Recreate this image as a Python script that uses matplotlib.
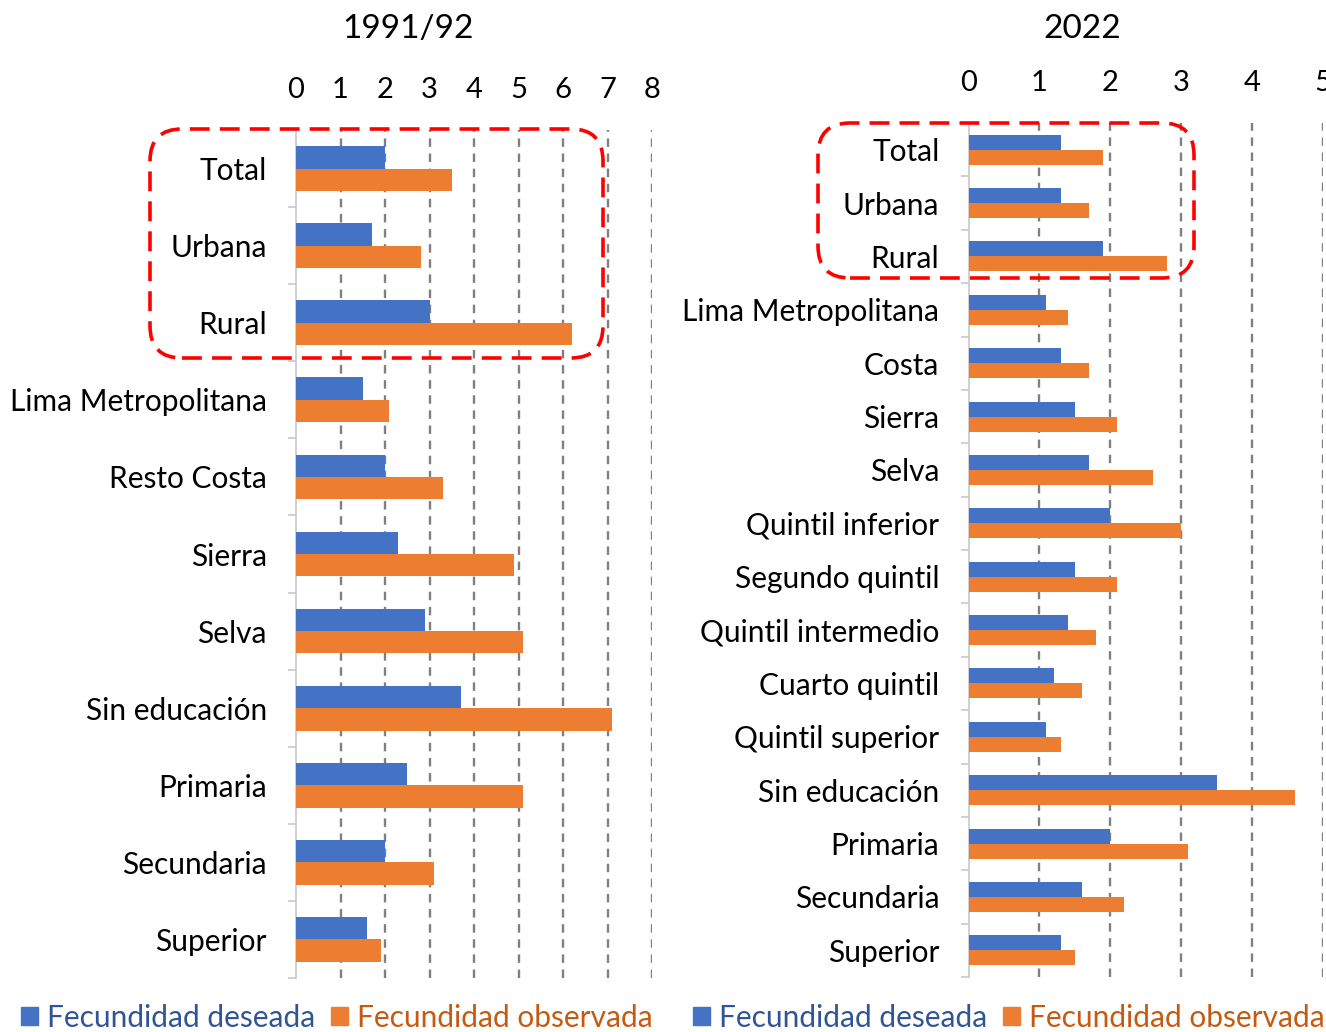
import numpy as np
import matplotlib
matplotlib.use("Agg")
import matplotlib.pyplot as plt
from matplotlib.patches import FancyBboxPatch, Patch

plt.rcParams['font.family'] = ['Lato', 'DejaVu Sans']

# --- data -----------------------------------------------------------------
cats_9192 = ['Total', 'Urbana', 'Rural', 'Lima Metropolitana', 'Resto Costa',
             'Sierra', 'Selva', 'Sin educación', 'Primaria', 'Secundaria',
             'Superior']
deseada_9192 = [2.0, 1.7, 3.0, 1.5, 2.0, 2.3, 2.9, 3.7, 2.5, 2.0, 1.6]
observada_9192 = [3.5, 2.8, 6.2, 2.1, 3.3, 4.9, 5.1, 7.1, 5.1, 3.1, 1.9]

cats_2022 = ['Total', 'Urbana', 'Rural', 'Lima Metropolitana', 'Costa',
             'Sierra', 'Selva', 'Quintil inferior', 'Segundo quintil',
             'Quintil intermedio', 'Cuarto quintil', 'Quintil superior',
             'Sin educación', 'Primaria', 'Secundaria', 'Superior']
deseada_2022 = [1.3, 1.3, 1.9, 1.1, 1.3, 1.5, 1.7, 2.0, 1.5, 1.4, 1.2, 1.1,
                3.5, 2.0, 1.6, 1.3]
observada_2022 = [1.9, 1.7, 2.8, 1.4, 1.7, 2.1, 2.6, 3.0, 2.1, 1.8, 1.6, 1.3,
                  4.6, 3.1, 2.2, 1.5]

BLUE = '#4472C4'
ORANGE = '#ED7D31'
W, H = 1326, 1032
FS = 21.5

fig = plt.figure(figsize=(W / 100, H / 100), dpi=100)


def px_axes(x0, x1, y0, y1):
    # pixel box (top-down y) -> figure fraction axes
    return fig.add_axes([x0 / W, 1 - y1 / H, (x1 - x0) / W, (y1 - y0) / H])


def panel(ax, cats, des, obs, xmax, bar_h):
    n = len(cats)
    y = np.arange(n)
    ax.barh(y - bar_h / 2, des, height=bar_h, color=BLUE, zorder=3)
    ax.barh(y + bar_h / 2, obs, height=bar_h, color=ORANGE, zorder=3)
    ax.set_ylim(n - 0.5, -0.5)
    ax.set_xlim(0, xmax)
    for v in range(1, xmax + 1):
        ax.axvline(v, color='#808080', lw=1.7, dashes=(3.6, 2.8), zorder=1)
    ax.xaxis.tick_top()
    ax.set_xticks(range(xmax + 1))
    ax.tick_params(axis='x', length=0, pad=19.5, labelsize=21)
    ax.set_yticks(y)
    ax.set_yticklabels(cats)
    ax.set_yticks(np.arange(n + 1) - 0.5, minor=True)
    ax.tick_params(axis='y', which='major', length=0, pad=21, labelsize=FS)
    ax.tick_params(axis='y', which='minor', length=6, width=1.2,
                   color='#C8C8C8')
    for s in ['top', 'right', 'bottom']:
        ax.spines[s].set_visible(False)
    ax.spines['left'].set_color('#C8C8C8')
    ax.spines['left'].set_linewidth(1.2)
    ax.set_facecolor('none')


ax1 = px_axes(296, 652, 130, 978)
panel(ax1, cats_9192, deseada_9192, observada_9192, 8, 0.29)
ax2 = px_axes(968.5, 1323, 123, 977)
panel(ax2, cats_2022, deseada_2022, observada_2022, 5, 0.28)

fig.text(408 / W, 1 - 29 / H, '1991/92', ha='center', va='center', fontsize=24)
fig.text(1082 / W, 1 - 29 / H, '2022', ha='center', va='center', fontsize=24)

# red dashed highlight boxes (pixel coords -> inches)
for (x0, y0, x1, y1) in [(150, 129, 603, 358), (818, 123, 1194, 278)]:
    box = FancyBboxPatch((x0 / 100, (H - y1) / 100), (x1 - x0) / 100,
                         (y1 - y0) / 100,
                         boxstyle='round,pad=0,rounding_size=0.32',
                         transform=fig.dpi_scale_trans, fill=False,
                         edgecolor='#FF0000', lw=2.6,
                         linestyle=(0, (5.5, 2.8)), zorder=10)
    fig.add_artist(box)

# legends
handles = [Patch(color=BLUE), Patch(color=ORANGE)]
labels = ['Fecundidad deseada', 'Fecundidad observada']
for cx in [337, 1009]:
    leg = fig.legend(handles, labels, loc='center',
                     bbox_to_anchor=(cx / W, 1 - 1018 / H), ncol=2,
                     frameon=False, fontsize=FS, handlelength=0.55,
                     handleheight=0.55, handletextpad=0.3,
                     columnspacing=0.55, borderpad=0)
    leg.get_texts()[0].set_color('#2F5597')
    leg.get_texts()[1].set_color('#C55A11')

fig.savefig('out.png', dpi=100)
